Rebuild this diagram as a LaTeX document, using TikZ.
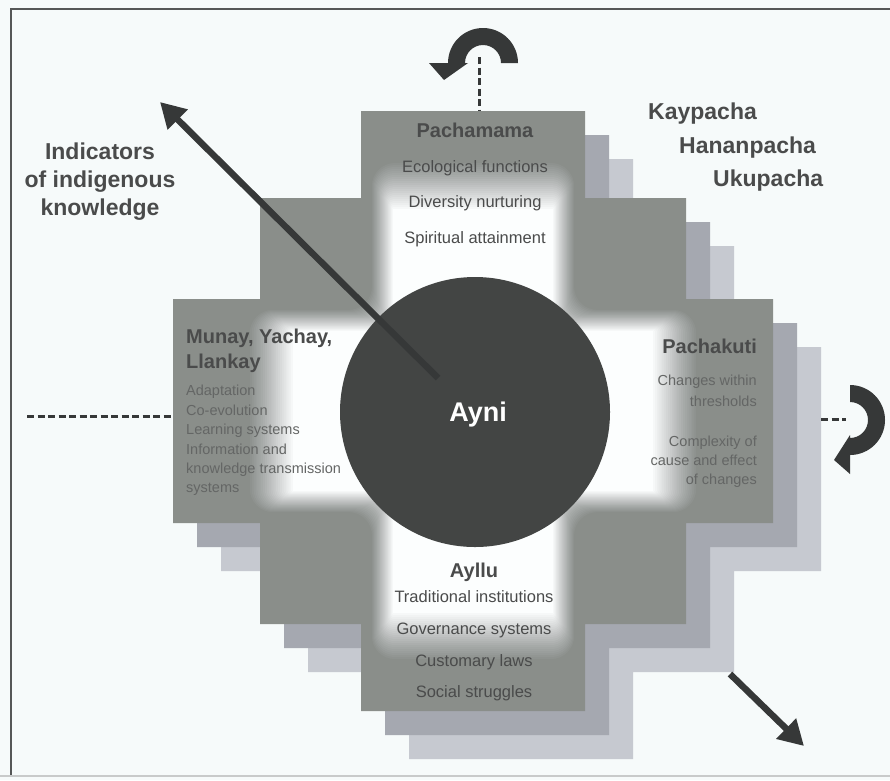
\documentclass[tikz,border=0pt]{standalone}
\usepackage{fontspec}
\setmainfont{Liberation Sans}
\usetikzlibrary{arrows.meta,calc}
\definecolor{bg}{HTML}{F6FAFA}
\definecolor{mainfill}{HTML}{8A8E8A}
\definecolor{shadA}{HTML}{A5A8B0}
\definecolor{shadB}{HTML}{C6C9D0}
\definecolor{circfill}{HTML}{434544}
\definecolor{ink}{HTML}{4A4B4B}
\definecolor{inksoft}{HTML}{646665}
\definecolor{arrowcol}{HTML}{363838}
\definecolor{framecol}{HTML}{555757}
\definecolor{framelight}{HTML}{C8CACA}
\definecolor{glowcol}{HTML}{FCFEFE}
\def\chakanapath{(-112,-300) -- (112,-300) -- (112,-213) -- (213,-213) -- (213,-112) -- (300,-112) -- (300,112) -- (213,112) -- (213,213) -- (112,213) -- (112,300) -- (-112,300) -- (-112,213) -- (-213,213) -- (-213,112) -- (-300,112) -- (-300,-112) -- (-213,-112) -- (-213,-213) -- (-112,-213) -- cycle}
\begin{document}
\begin{tikzpicture}[x=1pt,y=-1pt,
  bigtext/.style={font=\fontsize{23}{28}\selectfont\bfseries, text=ink, inner sep=0pt},
  titletext/.style={font=\fontsize{20}{24}\selectfont\bfseries, text=ink, inner sep=0pt},
  itemtext/.style={font=\fontsize{16.5}{20}\selectfont, text=ink, inner sep=0pt},
  smalltext/.style={font=\fontsize{14.5}{17}\selectfont, text=inksoft, inner sep=0pt},
  dashline/.style={draw=arrowcol, line width=3pt, dash pattern=on 7pt off 3.5pt},
  bigarrow/.style={draw=arrowcol, line width=6.5pt, -{Triangle[length=25pt,width=27pt]}},
  curvearrow/.style={fill=arrowcol}
]
\useasboundingbox (0,0) rectangle (890,780);
\fill[bg] (0,0) rectangle (890,780);
% frame
\draw[framecol, line width=2pt] (890,9) -- (11,9) -- (11,776);
\draw[framelight, line width=1.2pt] (0,776) -- (890,776);
% shadows
\begin{scope}[shift={(521,459)}]
  \fill[shadB] \chakanapath;
\end{scope}
\begin{scope}[shift={(497,435)}]
  \fill[shadA] \chakanapath;
\end{scope}
% main chakana with glow
\begin{scope}[shift={(473,411)}]
  \fill[mainfill] \chakanapath;
  \begin{scope}
    \clip \chakanapath;
    \foreach \j in {23,22,...,0} {
      \pgfmathsetmacro\tval{\j/24}
      \pgfmathsetmacro\hw{80+22*\tval}
      \pgfmathsetmacro\vl{202+48*\tval}
      \pgfmathsetmacro\hl{180+45*\tval}
      \pgfmathsetmacro\op{1/(\j+1)}
      \pgfmathsetmacro\rr{0.1+24*\tval}
      \fill[glowcol, opacity=\op, rounded corners=\rr pt] (-\hw,-\vl) -- (\hw,-\vl) -- (\hw,-\hw) -- (\hl,-\hw) -- (\hl,\hw) -- (\hw,\hw) -- (\hw,\vl) -- (-\hw,\vl) -- (-\hw,\hw) -- (-\hl,\hw) -- (-\hl,-\hw) -- (-\hw,-\hw) -- cycle;
    }
  \end{scope}
\end{scope}
% dashed lines
\coordinate (topdashA) at (479,57);
\coordinate (topdashB) at (479,111);
\coordinate (leftdashA) at (27,416);
\coordinate (leftdashB) at (173,416);
\coordinate (rightdashA) at (821,419);
\coordinate (rightdashB) at (846,419);
\draw[dashline] (topdashA) -- (topdashB);
\draw[dashline] (leftdashA) -- (leftdashB);
\draw[dashline] (rightdashA) -- (rightdashB);
% curved arrows
\coordinate (tc) at (483,63);
\fill[curvearrow] ($(tc)+(0:35)$) arc[start angle=0,end angle=-180,radius=35] -- ($(tc)+(180:54)$) -- (444,80) -- ($(tc)+(180:15)$) -- ($(tc)+(180:18)$) arc[start angle=-180,end angle=0,radius=18] -- cycle;
\coordinate (rc) at (850,420);
\fill[curvearrow] ($(rc)+(-90:35)$) arc[start angle=-90,end angle=90,radius=35] -- ($(rc)+(90:54)$) -- (834,460) -- ($(rc)+(90:15)$) -- ($(rc)+(90:18)$) arc[start angle=90,end angle=-90,radius=18] -- cycle;
% central circle
\node[circle, fill=circfill, minimum size=270pt, inner sep=0pt] (ayni) at (475,412) {};
\node[font=\fontsize{27}{32}\selectfont\bfseries, text=white, inner sep=0pt, anchor=base] (aynitext) at (478,421) {Ayni};
% big arrows
\coordinate (indStart) at (438,378);
\coordinate (indTip) at (160,102);
\draw[bigarrow] (indStart) -- (indTip);
\coordinate (outStart) at (730,674);
\coordinate (outTip) at (804,746);
\draw[bigarrow] (outStart) -- (outTip);
% indicator text
\node[bigtext, anchor=base] (ind1) at (100,159) {Indicators};
\node[bigtext, anchor=base] (ind2) at (100,187) {of indigenous};
\node[bigtext, anchor=base] (ind3) at (100,215) {knowledge};
% pacha texts
\node[bigtext, anchor=base west] (kay) at (648,119) {Kaypacha};
\node[bigtext, anchor=base west] (hanan) at (679,153) {Hananpacha};
\node[bigtext, anchor=base west] (uku) at (713,186) {Ukupacha};
% Pachamama
\node[titletext, anchor=base] (pachamama) at (475,137) {Pachamama};
\node[itemtext, anchor=base] (eco) at (475,172) {Ecological functions};
\node[itemtext, anchor=base] (div) at (475,207) {Diversity nurturing};
\node[itemtext, anchor=base] (spi) at (475,243) {Spiritual attainment};
% Munay
\node[titletext, anchor=base west] (munay) at (186,343) {Munay, Yachay,};
\node[titletext, anchor=base west] (llankay) at (186,368) {Llankay};
\node[smalltext, anchor=base west] (m1) at (186,395) {Adaptation};
\node[smalltext, anchor=base west] (m2) at (186,415) {Co-evolution};
\node[smalltext, anchor=base west] (m3) at (186,434) {Learning systems};
\node[smalltext, anchor=base west] (m4) at (186,454) {Information and};
\node[smalltext, anchor=base west] (m5) at (186,473) {knowledge transmission};
\node[smalltext, anchor=base west] (m6) at (186,492) {systems};
% Pachakuti
\node[titletext, anchor=base east] (pachakuti) at (757,353) {Pachakuti};
\node[smalltext, anchor=base east] (p1) at (757,385) {Changes within};
\node[smalltext, anchor=base east] (p2) at (757,406) {thresholds};
\node[smalltext, anchor=base east] (p3) at (757,446) {Complexity of};
\node[smalltext, anchor=base east] (p4) at (757,465) {cause and effect};
\node[smalltext, anchor=base east] (p5) at (757,484) {of changes};
% Ayllu
\node[titletext, anchor=base] (ayllu) at (474,577) {Ayllu};
\node[itemtext, anchor=base] (a1) at (474,602) {Traditional institutions};
\node[itemtext, anchor=base] (a2) at (474,634) {Governance systems};
\node[itemtext, anchor=base] (a3) at (474,666) {Customary laws};
\node[itemtext, anchor=base] (a4) at (474,697) {Social struggles};
\end{tikzpicture}
\end{document}
